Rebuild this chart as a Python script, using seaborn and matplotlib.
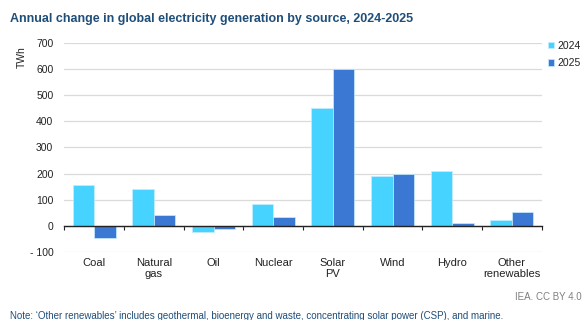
import pandas as pd
import matplotlib
matplotlib.use("Agg")
import matplotlib.pyplot as plt
import seaborn as sns
from matplotlib.ticker import FixedLocator

# ── data (TWh) ──────────────────────────────────────────────────────────
sources = ["Coal", "Natural\ngas", "Oil", "Nuclear", "Solar\nPV", "Wind",
           "Hydro", "Other\nrenewables"]
change_2024 = [155, 140, -22, 85, 450, 190, 211, 22]
change_2025 = [-45, 40, -12, 35, 600, 198, 10, 51]
years = ["2024", "2025"]
y_ticks = [-100, 0, 100, 200, 300, 400, 500, 600, 700]
y_tick_labels = ["- 100", "0", "100", "200", "300", "400", "500", "600", "700"]

df = pd.DataFrame({
    "source": sources * 2,
    "year": [years[0]] * len(sources) + [years[1]] * len(sources),
    "twh": change_2024 + change_2025,
})

sns.set_theme(style="white")
plt.rcParams["font.family"] = ["Liberation Sans", "DejaVu Sans"]

palette = {"2024": "#47D3FF", "2025": "#3A78D4"}

fig = plt.figure(figsize=(5.83, 3.2), dpi=100)
ax = fig.add_axes([0.1106, 0.2125, 0.8184, 0.654])

sns.barplot(data=df, x="source", y="twh", hue="year", palette=palette,
            saturation=1, width=0.72, edgecolor="#c8ecff", linewidth=0.5,
            ax=ax, legend=True)

ax.set_ylim(-100, 700)
ax.set_xlim(-0.5, len(sources) - 0.5)
ax.set_yticks(y_ticks)
ax.set_yticklabels(y_tick_labels)
ax.yaxis.grid(True, color="#dadada", linewidth=0.9)
ax.set_axisbelow(True)
for s in ["top", "right", "left"]:
    ax.spines[s].set_visible(False)

# zero line with category boundary ticks
ax.spines["bottom"].set_position(("data", 0))
ax.spines["bottom"].set_color("#222222")
ax.spines["bottom"].set_linewidth(1.0)
ax.spines["bottom"].set_zorder(3)
ax.xaxis.set_minor_locator(FixedLocator([i - 0.5 for i in range(len(sources) + 1)]))
ax.tick_params(axis="x", which="minor", length=3, width=0.8, color="#222222",
               direction="out", bottom=True)
ax.tick_params(axis="x", which="major", length=0, pad=23, labelsize=8,
               labelcolor="#222222")
ax.tick_params(axis="y", length=0, pad=8, labelsize=7.5, labelcolor="#222222")

ax.set_xlabel("")
ax.set_ylabel("TWh", fontsize=7.5, color="#222222")
ax.yaxis.set_label_coords(-0.078, 0.93)

leg = ax.legend(loc="upper left", bbox_to_anchor=(1.005, 1.03), frameon=False,
                fontsize=7.5, handlelength=0.6, handleheight=0.6,
                handletextpad=0.25, labelspacing=0.7, borderaxespad=0)
for t in leg.get_texts():
    t.set_color("#222222")

fig.text(0.017, 0.94, "Annual change in global electricity generation by source, 2024-2025",
         fontsize=9, fontweight="bold", color="#1F4E79", va="center", ha="left")
fig.text(0.997, 0.072, "IEA. CC BY 4.0", fontsize=7, color="#808080",
         va="center", ha="right")
fig.text(0.017, 0.012,
         "Note: \u2018Other renewables\u2019 includes geothermal, bioenergy and waste, "
         "concentrating solar power (CSP), and marine.",
         fontsize=7, color="#1F4E79", va="center", ha="left")

fig.savefig("out.png", dpi=100)
